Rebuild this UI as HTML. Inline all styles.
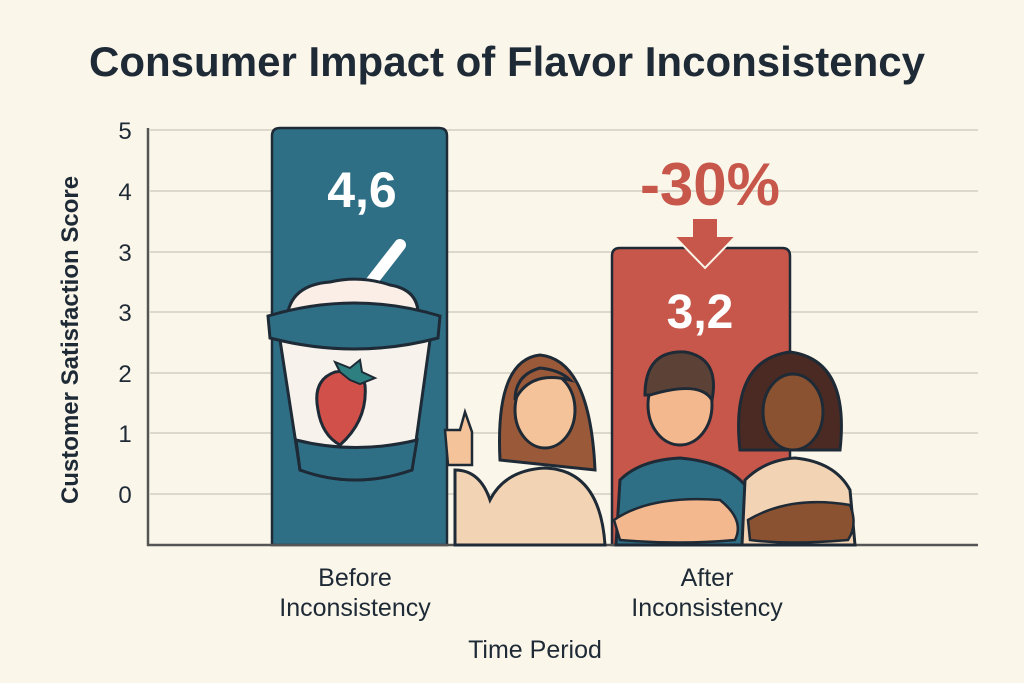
<!DOCTYPE html>
<html><head><meta charset="utf-8"><style>
html,body{margin:0;padding:0;background:#fbf6ea;}
svg{display:block;font-family:"Liberation Sans",sans-serif;}
</style></head><body>
<svg width="1024" height="683" viewBox="0 0 1024 683">
<rect width="1024" height="683" fill="#fbf6ea"/>
<text x="507" y="76" text-anchor="middle" font-size="42" font-weight="bold" fill="#1e2a36" textLength="836" lengthAdjust="spacingAndGlyphs">Consumer Impact of Flavor Inconsistency</text>
<g stroke="#ddd8cc" stroke-width="2">
<line x1="150" y1="130" x2="978" y2="130"/><line x1="150" y1="191" x2="978" y2="191"/>
<line x1="150" y1="252" x2="978" y2="252"/><line x1="150" y1="312" x2="978" y2="312"/>
<line x1="150" y1="373" x2="978" y2="373"/><line x1="150" y1="433" x2="978" y2="433"/>
<line x1="150" y1="494" x2="978" y2="494"/>
</g>
<g font-size="24" fill="#1e2a36" text-anchor="middle">
<text x="125" y="139">5</text><text x="125" y="200">4</text><text x="125" y="261">3</text>
<text x="125" y="321">3</text><text x="125" y="382">2</text><text x="125" y="442">1</text><text x="125" y="503">0</text>
</g>
<text transform="translate(78,340) rotate(-90)" text-anchor="middle" font-size="24" font-weight="bold" fill="#1e2a36">Customer Satisfaction Score</text>
<path d="M272 545 V136 Q272 128 280 128 H439 Q447 128 447 136 V545 Z" fill="#2e6f86" stroke="#1e2a36" stroke-width="2.5"/>
<path d="M612 545 V256 Q612 248 620 248 H782 Q790 248 790 256 V545 Z" fill="#c6574a" stroke="#1e2a36" stroke-width="2.5"/>
<line x1="148" y1="128" x2="148" y2="546" stroke="#555" stroke-width="2.5"/>
<line x1="147" y1="545" x2="978" y2="545" stroke="#555" stroke-width="2.5"/>
<text x="362" y="207" text-anchor="middle" font-size="50" font-weight="bold" fill="#fff">4,6</text>
<text x="710" y="205" text-anchor="middle" font-size="60" font-weight="bold" fill="#c6574a">-30%</text>
<path d="M692 218 H718 V236 H736 L705 268 L674 236 H692 Z" fill="#c6574a" stroke="#fbf6ea" stroke-width="2"/>
<text x="700" y="328" text-anchor="middle" font-size="48" font-weight="bold" fill="#fff">3,2</text>
<g stroke="#1e2a36" stroke-width="3">
<line x1="365" y1="290" x2="400" y2="245" stroke="#fff" stroke-width="12" stroke-linecap="round"/>
<path d="M287 318 Q290 285 330 282 Q360 275 390 285 Q420 290 418 318 Z" fill="#fbeee6"/>
<path d="M280 340 L300 470 Q355 490 412 470 L430 340 Z" fill="#f7f3ec"/>
<path d="M296 440 L300 470 Q355 490 412 470 L417 440 Q355 455 296 440 Z" fill="#2e6f86"/>
<path d="M268 316 Q355 290 440 316 L438 338 Q355 360 270 338 Z" fill="#2e6f86"/>
<path d="M318 410 Q312 380 335 372 Q360 368 365 385 Q368 420 340 445 Q322 435 318 410 Z" fill="#d2504a"/>
<path d="M340 372 L335 362 L350 368 L360 360 L362 372 L375 378 L360 384 L350 380 Z" fill="#2e7f7f" stroke-width="2"/>
</g>
<g stroke="#1e2a36" stroke-width="3">
<path d="M500 460 Q495 360 540 355 Q590 360 595 470 Z" fill="#9a5a3a"/>
<path d="M455 545 L455 470 Q480 470 490 500 Q505 470 545 468 Q600 470 605 545 Z" fill="#f2d3b4"/>
<ellipse cx="545" cy="410" rx="30" ry="38" fill="#f4c39a"/>
<path d="M515 400 Q530 370 570 380 Q560 370 540 368 Q515 375 515 400 Z" fill="#9a5a3a"/>
<path d="M445 430 L460 430 L465 412 L472 432 L472 465 L448 465 Z" fill="#f4c39a" stroke-width="2.5"/>
</g>
<g stroke="#1e2a36" stroke-width="3">
<path d="M616 545 L620 480 Q640 460 680 458 Q725 462 745 485 L745 545 Z" fill="#2e6f86"/>
<ellipse cx="680" cy="405" rx="32" ry="40" fill="#f4b88e"/>
<path d="M645 395 Q645 350 685 352 Q720 358 712 400 Q700 380 650 395 Z" fill="#5c4236"/>
<path d="M614 520 Q650 495 720 500 Q745 520 735 540 Q680 545 620 540 Z" fill="#f4b88e" stroke-width="2.5"/>
</g>
<g stroke="#1e2a36" stroke-width="3">
<path d="M740 450 Q730 360 790 352 Q850 360 840 450 Z" fill="#4a2a22"/>
<path d="M742 545 L745 480 Q765 460 795 458 Q835 462 850 490 L855 545 Z" fill="#f2d3b4"/>
<ellipse cx="793" cy="412" rx="30" ry="38" fill="#8a5230"/>
<path d="M748 520 Q790 495 850 505 Q858 525 848 540 Q790 545 750 540 Z" fill="#8a5230" stroke-width="2.5"/>
</g>
<g font-size="25" fill="#1e2a36" text-anchor="middle">
<text x="355" y="586">Before</text><text x="355" y="616">Inconsistency</text>
<text x="707" y="586">After</text><text x="707" y="616">Inconsistency</text>
<text x="535" y="658">Time Period</text>
</g>
</svg>
</body></html>
